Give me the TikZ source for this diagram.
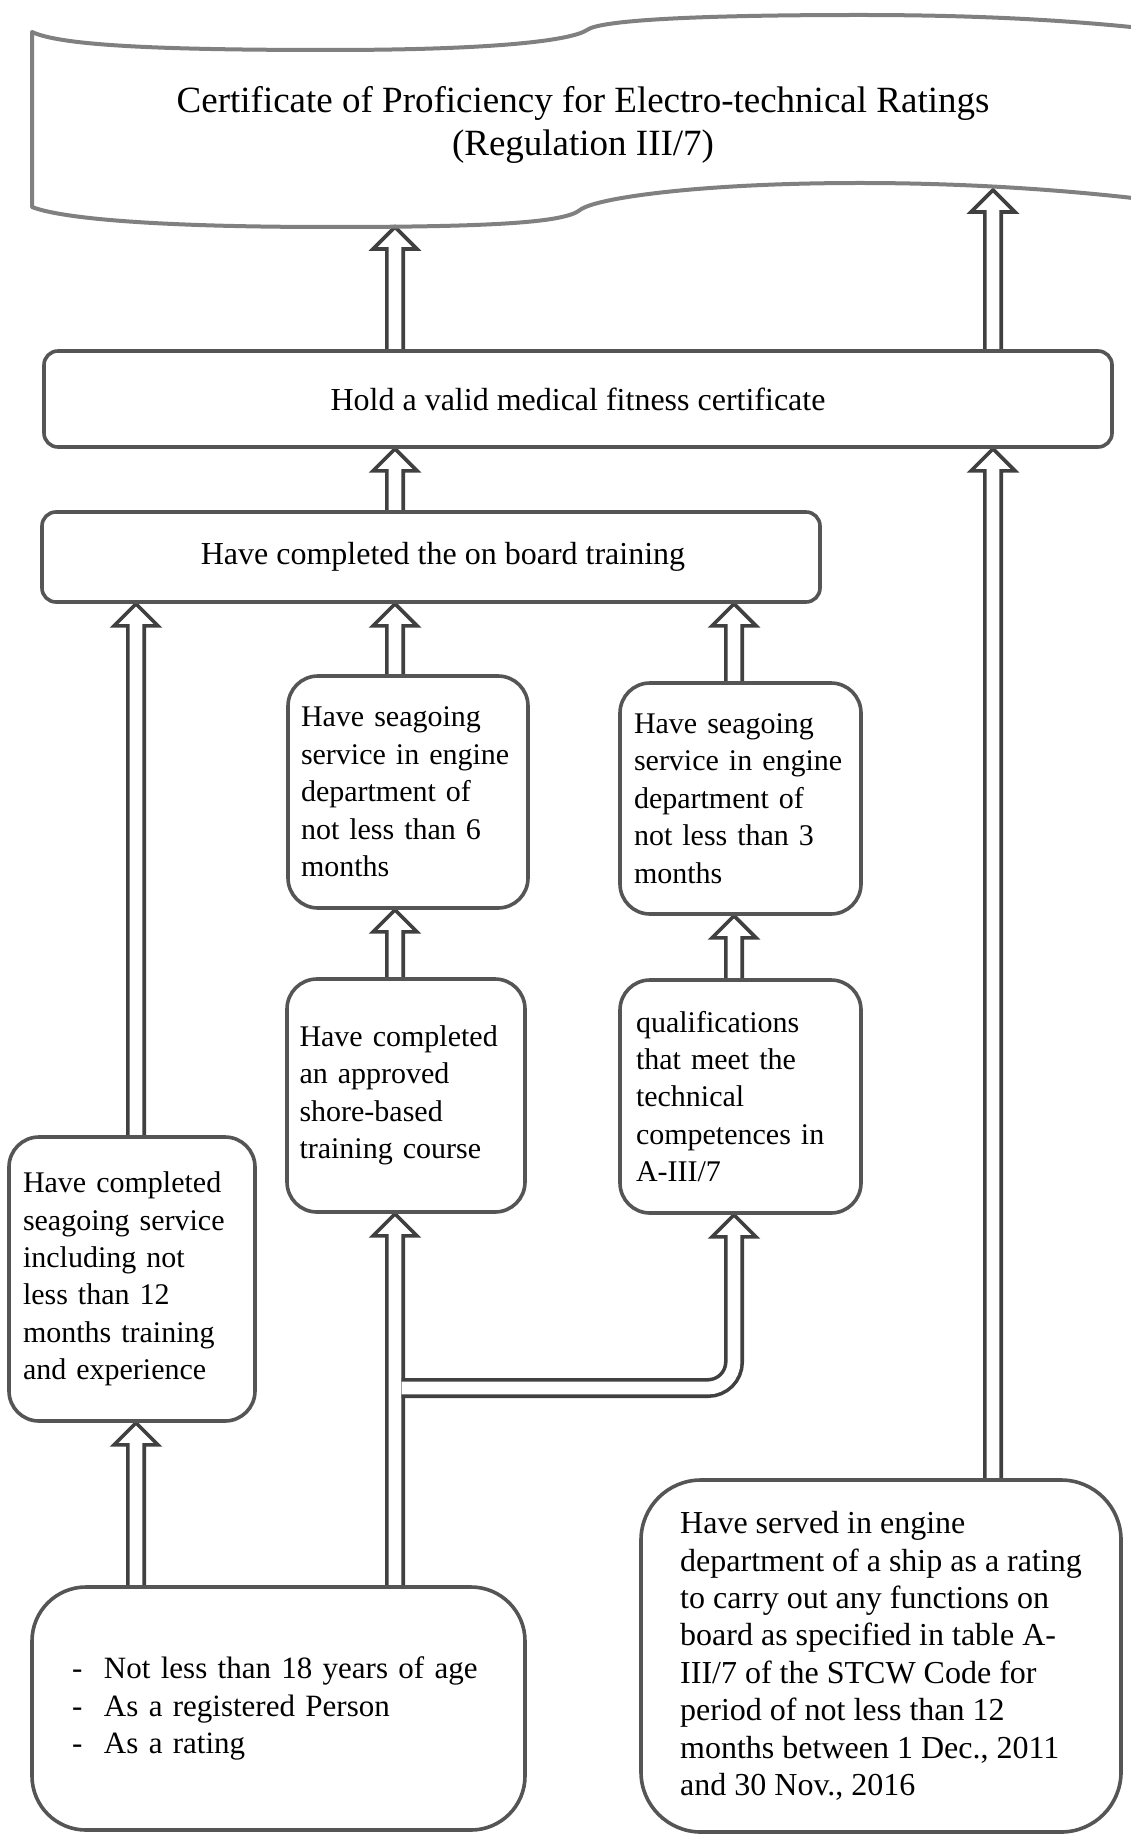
\documentclass[tikz,border=0pt]{standalone}
\usepackage{fontspec}
\setmainfont{Liberation Serif}
\usepackage{tikz}
\usetikzlibrary{calc,positioning,backgrounds}
\definecolor{boxline}{HTML}{555555}
\definecolor{arrline}{HTML}{404040}
\definecolor{flagline}{HTML}{808080}

\begin{document}
\begin{tikzpicture}[x=0.5pt,y=-0.5pt,
  box/.style={rectangle,draw=boxline,line width=1.8pt,rounded corners=15pt,fill=white,
              font=\fontsize{15}{18.7}\selectfont,align=left,inner ysep=0pt},
  wide/.style={font=\fontsize{16}{18.7}\selectfont},
  arr/.style={draw=arrline,line width=1.8pt,fill=white,line join=miter,
              to path={let \p1=(\tikztostart),\p2=(\tikztotarget) in
                (\x1-4.1pt,\y1) -- (\x1-4.1pt,\y2-11pt) -- (\x1-11pt,\y2-11pt) -- (\x1,\y2)
                -- (\x1+11pt,\y2-11pt) -- (\x1+4.1pt,\y2-11pt) -- (\x1+4.1pt,\y1)}},
  pipe/.style={draw=arrline,line width=1.8pt,double=white,double distance=6.4pt,rounded corners=13pt},
  flag/.style={draw=flagline,line width=2pt,line join=round}
]
\useasboundingbox (0,0) rectangle (1130,1834);

% banner
\draw[flag] (1150,29) .. controls (1050,18) and (950,15) .. (860,15)
  .. controls (700,15) and (600,20) .. (587,30)
  .. controls (572,40) and (500,50) .. (330,50)
  .. controls (150,50) and (60,45) .. (32,32)
  -- (32,207)
  .. controls (60,218) and (150,227) .. (330,227)
  .. controls (500,227) and (565,222) .. (580,210)
  .. controls (595,198) and (700,183) .. (860,183)
  .. controls (950,183) and (1050,188) .. (1150,200);
\node[font=\fontsize{18.5}{21.5}\selectfont,align=center] (cert) at (583,125)
  {Certificate of Proficiency for Electro-technical Ratings\\(Regulation III/7)};
\coordinate (tipL) at (397,227);
\coordinate (tipR) at (993,190);

% columns of the arrows
\coordinate (c1) at (136,0);
\coordinate (c2) at (395,0);
\coordinate (c3) at (734,0);
\coordinate (c4) at (993,0);

\node[box,wide,rounded corners=7pt,align=center,minimum width=534pt,minimum height=48pt] (med) at (578,399)
  {Hold a valid medical fitness certificate};
\node[box,wide,rounded corners=7pt,align=center,minimum width=389pt,minimum height=45pt] (board) at (431,557)
  {\hspace*{12pt}Have completed the on board training};
\node[box,text width=107pt,inner xsep=6.5pt,minimum height=116pt] (six) at (408,792)
  {Have seagoing\\service in engine\\department of\\not less than 6\\months};
\node[box,text width=106.5pt,inner xsep=7pt,minimum height=115.5pt] (three) at (740.5,798.5)
  {Have seagoing\\service in engine\\department of\\not less than 3\\months};
\node[box,text width=106.5pt,inner xsep=6.25pt,minimum height=116.5pt] (shore) at (406,1095.5)
  {Have completed\\an approved\\shore-based\\training course};
\node[box,text width=104.5pt,inner xsep=8pt,minimum height=116.5pt] (qual) at (740.5,1096.5)
  {qualifications\\that meet the\\technical\\competences in\\A-III/7};
\node[box,text width=109pt,inner xsep=7pt,minimum height=142pt] (seago) at (132,1279)
  {Have completed\\seagoing service\\including not\\less than 12\\months training\\and experience};
\node[box,font=\fontsize{15.5}{18.7}\selectfont,rounded corners=27pt,text width=206.5pt,inner xsep=20pt,
      minimum height=121.5pt] (base) at (278.5,1708.5)
  {\makebox[16pt][l]{-}Not less than 18 years of age\\
   \makebox[16pt][l]{-}As a registered Person\\
   \makebox[16pt][l]{-}As a rating};
\node[box,wide,rounded corners=30pt,minimum width=240pt,minimum height=176pt] (served) at (881,1656)
  {Have served in engine\\department of a ship as a rating\\to carry out any functions on\\board as specified in table A-\\III/7 of the STCW Code for\\period of not less than 12\\months between 1 Dec., 2011\\and 30 Nov., 2016};

\coordinate (fork) at (395,1388);
\coordinate (jt) at ($(qual.south -| c3)+(0,60)$);

\begin{scope}[on background layer]
\draw[arr] (med.north -| c2) to (tipL);
\draw[arr] (med.north -| c4) to (tipR);
\draw[arr] (board.north -| c2) to (med.south -| c2);
\draw[arr] (served.north -| c4) to (med.south -| c4);
\draw[arr] (seago.north -| c1) to (board.south -| c1);
\draw[arr] (six.north -| c2) to (board.south -| c2);
\draw[arr] (three.north -| c3) to (board.south -| c3);
\draw[arr] (shore.north -| c2) to (six.south -| c2);
\draw[arr] (qual.north -| c3) to (three.south -| c3);
\draw[arr] (base.north -| c1) to (seago.south -| c1);
\draw[arr] (base.north -| c2) to (shore.south -| c2);
\draw[pipe] ([xshift=3.3pt]fork) -- (fork -| c3) -- (jt);
\draw[arr] (jt) to (qual.south -| c3);
\end{scope}
\end{tikzpicture}
\end{document}
